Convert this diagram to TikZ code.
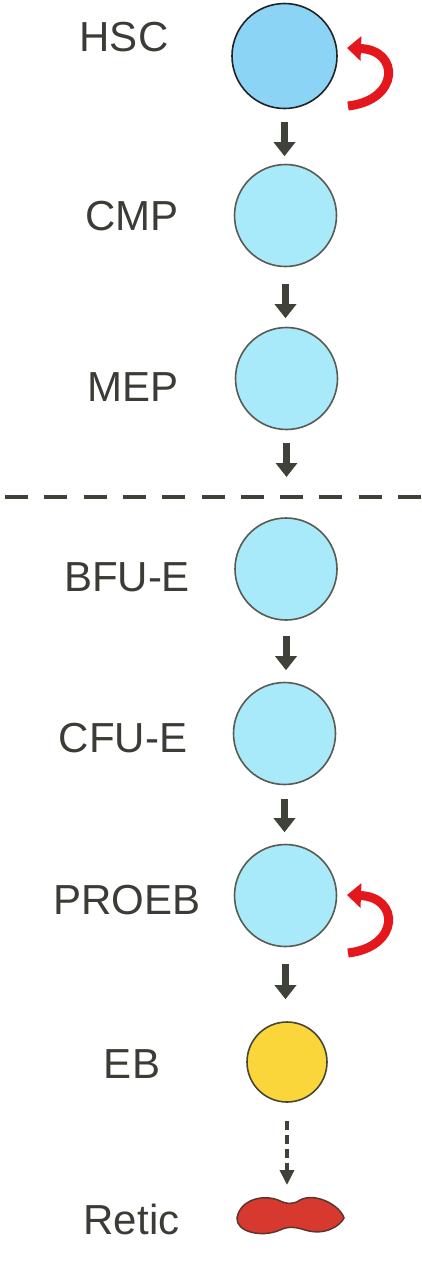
\documentclass[tikz,border=0pt]{standalone}
\usepackage{fontspec}
\setmainfont{Liberation Sans}
\usetikzlibrary{arrows.meta,calc}
\definecolor{txt}{RGB}{58,61,53}
\definecolor{arrowgray}{RGB}{62,66,56}
\definecolor{cellblue}{RGB}{168,233,250}
\definecolor{hscblue}{RGB}{140,212,246}
\definecolor{cellline}{RGB}{90,90,80}
\definecolor{hscline}{RGB}{35,35,35}
\definecolor{ebyellow}{RGB}{250,214,58}
\definecolor{ebline}{RGB}{70,70,55}
\definecolor{reticred}{RGB}{216,57,46}
\definecolor{reticline}{RGB}{90,55,45}
\definecolor{selfred}{RGB}{228,24,28}
\begin{document}
\begin{tikzpicture}[x=1pt,y=-1pt,
  cell/.style={circle, draw=cellline, line width=1.6pt, inner sep=0pt, minimum size=102pt, fill=cellblue},
  lbl/.style={text=txt, font=\fontsize{42}{42}\selectfont, anchor=base, inner sep=0pt},
  flow/.style={draw=arrowgray, line width=7pt, -{Triangle[length=14pt,width=21pt]}},
  dflow/.style={draw=arrowgray, line width=3.5pt, dash pattern=on 9pt off 5pt, -{Triangle[length=15pt,width=14pt]}},
  divider/.style={draw=arrowgray, line width=4.5pt, dash pattern=on 23pt off 16.3pt},
  selfarrow/.style={draw=selfred, line width=9pt, -{Triangle[length=14pt,width=24pt]}}
]
\useasboundingbox (0,0) rectangle (421,1280);

% cells
\node[cell, fill=hscblue, draw=hscline, minimum size=105pt] (hsc) at (284.5,56) {};
\node[cell] (cmp) at (285.5,215.5) {};
\node[cell] (mep) at (286.5,378.5) {};
\node[cell] (bfu) at (286,569) {};
\node[cell] (cfu) at (284.5,733.5) {};
\node[cell] (proeb) at (285.5,895.5) {};
\node[cell, fill=ebyellow, draw=ebline, minimum size=80pt] (eb) at (287,1062) {};

% reticulocyte
\draw[fill=reticred, draw=reticline, line width=1.5pt]
  (237,1218) .. controls (240,1200) and (262,1194) .. (278,1200)
  .. controls (286,1204) and (293,1205) .. (300,1200)
  .. controls (315,1192) and (340,1205) .. (344,1218)
  .. controls (340,1226) and (325,1236) .. (305,1230)
  .. controls (296,1227) and (288,1226) .. (280,1230)
  .. controls (262,1238) and (236,1232) .. (237,1218) -- cycle;
\coordinate (retic) at (289,1195);

% labels
\node[lbl] (lhsc) at (124,51) {HSC};
\node[lbl] (lcmp) at (132,230) {CMP};
\node[lbl] (lmep) at (133.5,401) {MEP};
\node[lbl] (lbfu) at (127,591) {BFU-E};
\node[lbl] (lcfu) at (123,752) {CFU-E};
\node[lbl] (lproeb) at (127,914) {PROEB};
\node[lbl] (leb) at (132,1078) {EB};
\node[lbl] (lretic) at (131.5,1234) {Retic};

% divider
\coordinate (divL) at (5,497);
\coordinate (divR) at (421,497);
\draw[divider] (divL) -- (divR);

% arrows
\draw[flow, shorten <=12.5pt, shorten >=7.5pt] (hsc.south) -- (hsc.south |- cmp.north);
\draw[flow, shorten <=16.5pt, shorten >=8.5pt] (cmp.south) -- (cmp.south |- mep.north);
\draw[flow, shorten <=12.5pt, shorten >=20pt] (mep.south) -- (mep.south |- divL);
\draw[flow, shorten <=15pt, shorten >=11.5pt] (bfu.south) -- (bfu.south |- cfu.north);
\draw[flow, shorten <=13.5pt, shorten >=11.5pt] (cfu.south) -- (cfu.south |- proeb.north);
\draw[flow, shorten <=16.5pt, shorten >=22pt] (proeb.south) -- (proeb.south |- eb.north);
\draw[dflow, shorten <=18pt, shorten >=10pt] (eb.south) -- (eb.south |- retic);

% self-renewal arrows
\draw[selfarrow] (348,106) .. controls (400,100) and (400,50) .. (347,48);
\draw[selfarrow, shift={(0,847)}] (348,106) .. controls (400,100) and (400,50) .. (347,48);
\end{tikzpicture}
\end{document}
